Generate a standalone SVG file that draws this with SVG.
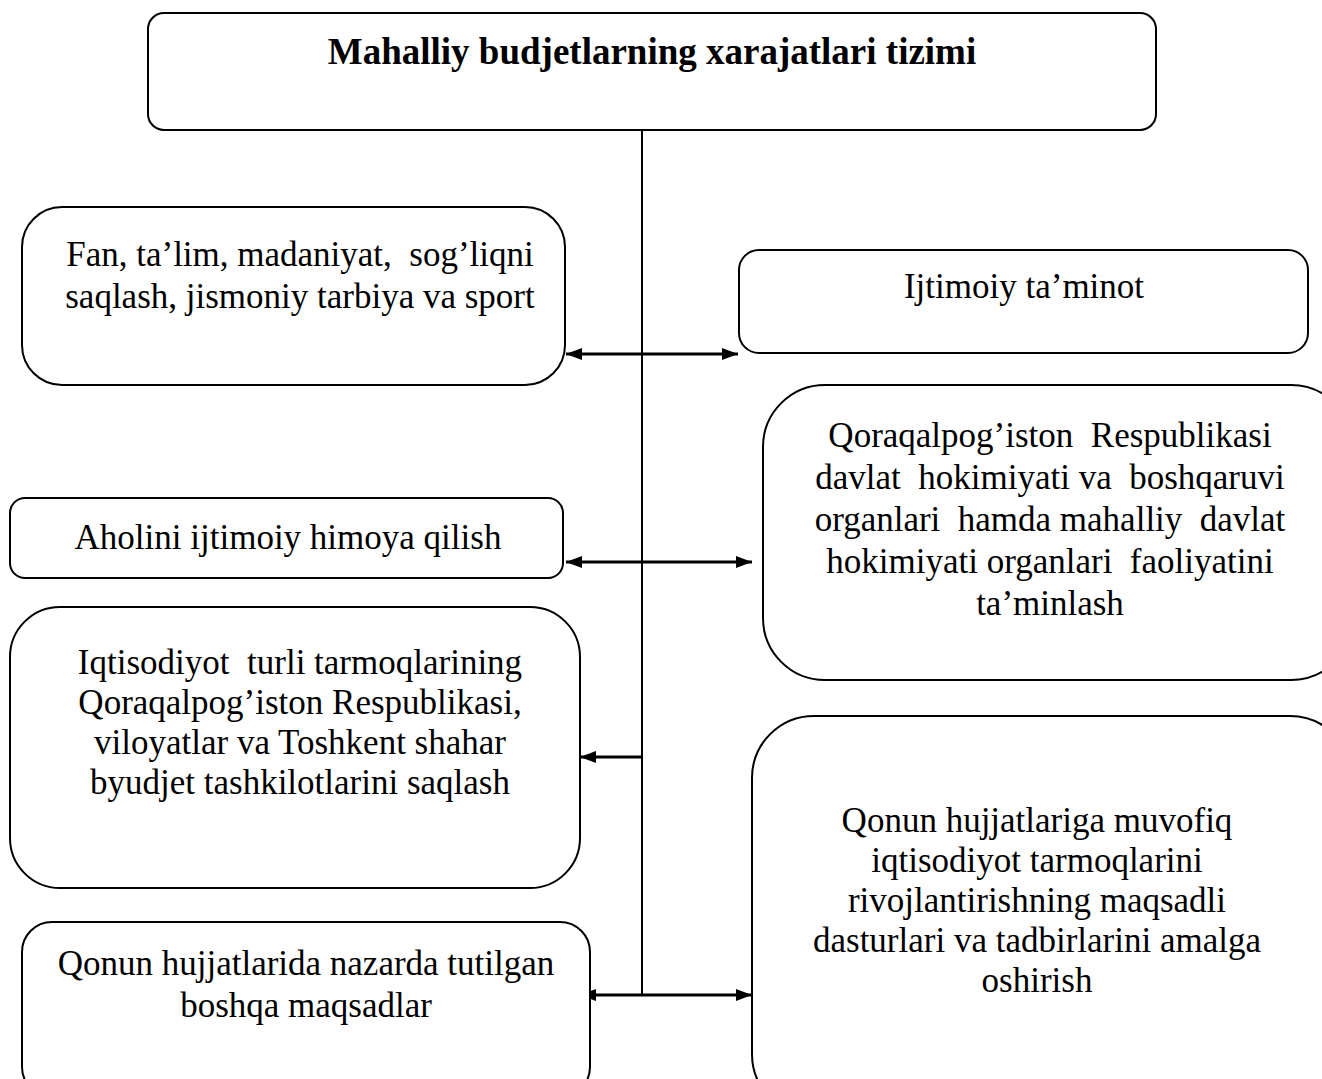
<svg xmlns="http://www.w3.org/2000/svg" width="1322" height="1079" viewBox="0 0 1322 1079">
<style>
.box{fill:#fff;stroke:#000;stroke-width:2}
.t{font-family:"Liberation Serif","Times New Roman",serif;font-size:35px;fill:#000;text-anchor:middle;white-space:pre}
.b{font-weight:bold;font-size:37px}
.c{stroke:#000;stroke-width:2;fill:none}
.a{stroke:#000;stroke-width:3;fill:none}
</style>
<defs>
<marker id="ah" viewBox="0 0 16 12" refX="16" refY="6" markerWidth="16" markerHeight="12" markerUnits="userSpaceOnUse" orient="auto-start-reverse">
<path d="M0,0 L16,6 L0,12 z" fill="#000"/>
</marker>
</defs>
<g id="connectors">
<line class="c" x1="642" y1="130" x2="642" y2="995"/>
<line class="a" x1="566" y1="354" x2="738" y2="354" marker-start="url(#ah)" marker-end="url(#ah)"/>
<line class="a" x1="566" y1="562" x2="752" y2="562" marker-start="url(#ah)" marker-end="url(#ah)"/>
<line class="a" x1="642" y1="757" x2="580" y2="757" marker-end="url(#ah)"/>
<line class="a" x1="580" y1="995" x2="752" y2="995" marker-start="url(#ah)" marker-end="url(#ah)"/>
</g>
<g id="title">
<rect class="box" x="148" y="13" width="1008" height="117" rx="16"/>
<text class="t b" x="652" y="64">Mahalliy budjetlarning xarajatlari tizimi</text>
</g>
<g id="n-fan">
<rect class="box" x="22" y="207" width="543" height="178" rx="40"/>
<text class="t" x="300" y="266">Fan, ta’lim, madaniyat,  sog’liqni</text>
<text class="t" x="300" y="308">saqlash, jismoniy tarbiya va sport</text>
</g>
<g id="n-taminot">
<rect class="box" x="739" y="250" width="569" height="103" rx="20"/>
<text class="t" x="1024" y="298">Ijtimoiy ta’minot</text>
</g>
<g id="n-aholi">
<rect class="box" x="10" y="498" width="553" height="80" rx="15"/>
<text class="t" x="288" y="549">Aholini ijtimoiy himoya qilish</text>
</g>
<g id="n-qoraqalpog">
<rect class="box" x="763" y="385" width="590" height="295" rx="62"/>
<text class="t" x="1050" y="447">Qoraqalpog’iston  Respublikasi</text>
<text class="t" x="1050" y="489">davlat  hokimiyati va  boshqaruvi</text>
<text class="t" x="1050" y="531">organlari  hamda mahalliy  davlat</text>
<text class="t" x="1050" y="573">hokimiyati organlari  faoliyatini</text>
<text class="t" x="1050" y="615">ta’minlash</text>
</g>
<g id="n-iqtisodiyot">
<rect class="box" x="10" y="607" width="570" height="281" rx="50"/>
<text class="t" x="300" y="674">Iqtisodiyot  turli tarmoqlarining</text>
<text class="t" x="300" y="714">Qoraqalpog’iston Respublikasi,</text>
<text class="t" x="300" y="754">viloyatlar va Toshkent shahar</text>
<text class="t" x="300" y="794">byudjet tashkilotlarini saqlash</text>
</g>
<g id="n-dastur">
<rect class="box" x="752" y="716" width="600" height="400" rx="62"/>
<text class="t" x="1037" y="832">Qonun hujjatlariga muvofiq</text>
<text class="t" x="1037" y="872">iqtisodiyot tarmoqlarini</text>
<text class="t" x="1037" y="912">rivojlantirishning maqsadli</text>
<text class="t" x="1037" y="952">dasturlari va tadbirlarini amalga</text>
<text class="t" x="1037" y="992">oshirish</text>
</g>
<g id="n-boshqa">
<rect class="box" x="22" y="922" width="568" height="175" rx="30"/>
<text class="t" x="306" y="975">Qonun hujjatlarida nazarda tutilgan</text>
<text class="t" x="306" y="1017">boshqa maqsadlar</text>
</g>
</svg>
